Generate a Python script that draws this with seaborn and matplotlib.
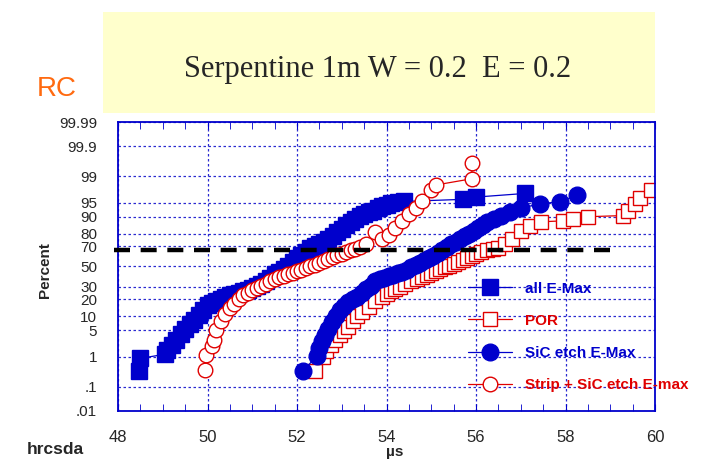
import numpy as np
import matplotlib
matplotlib.use("Agg")
import matplotlib.pyplot as plt
import seaborn as sns
import pandas as pd
from statistics import NormalDist
from matplotlib.patches import Rectangle
from matplotlib.ticker import FixedLocator, FixedFormatter, MultipleLocator, NullLocator

# ── data (x in µs, y in cumulative percent) ─────────────────────
emax_x = [48.48, 48.5, 49.05, 49.1, 49.2, 49.3, 49.4, 49.5, 49.6, 49.7, 49.8, 49.9,
          50.0, 50.1, 50.2, 50.3, 50.4, 50.5, 50.6, 50.7, 50.8, 50.9, 51.0, 51.1, 51.2,
          51.3, 51.4, 51.5, 51.6, 51.7, 51.8, 51.9, 52.0, 52.1, 52.2, 52.3, 52.4, 52.5,
          52.6, 52.7, 52.8, 52.9, 53.0, 53.1, 53.2, 53.3, 53.4, 53.5, 53.6, 53.7, 53.8,
          53.9, 54.0, 54.1, 54.25, 54.4, 55.7, 56.0, 57.1]
emax_y = [0.35, 0.9, 1.2, 1.6, 2.2, 3.0, 4.2, 5.5, 7.0, 8.5, 10.5, 13,
          16, 17.5, 19, 20.5, 21.5, 23, 24, 25, 26, 27.5, 29, 31, 33,
          35, 38, 42, 44.5, 47, 51, 55, 58.5, 62, 65, 68, 70, 72,
          74, 76, 78.5, 81, 83.5, 85.5, 87.5, 89, 90.2, 91, 91.8, 92.5, 93.3,
          94, 94.4, 94.8, 95.1, 95.3, 95.8, 96.3, 97]

por_x = [52.4, 52.58, 52.65, 52.75, 52.85, 52.95, 53.05, 53.15, 53.25, 53.35, 53.45, 53.6,
         53.75, 53.9, 54.0, 54.1, 54.2, 54.3, 54.42, 54.55, 54.68, 54.8, 54.9, 55.0, 55.1,
         55.2, 55.3, 55.4, 55.5, 55.6, 55.7, 55.8, 55.9, 56.0, 56.12, 56.25, 56.38,
         56.5, 56.65, 56.8, 57.0, 57.2, 57.45, 57.95, 58.17, 58.5, 59.28, 59.4, 59.55,
         59.66, 59.9]
por_y = [0.36, 0.96, 1.5, 2.2, 3.0, 3.8, 4.8, 6.0, 8.0, 10, 12, 15,
         18.5, 22, 24, 26, 28, 30, 32.5, 35, 37, 39, 41, 43, 45,
         47, 49, 51, 53, 55, 57, 59, 61, 63, 64.5, 66, 67,
         68, 72, 76, 82, 85, 87.5, 88, 89, 90, 90.5, 92.5, 94.5,
         96, 97.5]

sic_x = [52.13, 52.45, 52.5, 52.55, 52.62, 52.7, 52.78, 52.87, 52.96, 53.05, 53.15, 53.25,
         53.35, 53.45, 53.55, 53.65, 53.75, 53.85, 53.95, 54.05, 54.15, 54.25, 54.35, 54.45,
         54.55, 54.65, 54.75, 54.85, 54.95, 55.05, 55.15, 55.25, 55.35, 55.45, 55.55, 55.65,
         55.75, 55.85, 55.95, 56.05, 56.15, 56.25, 56.4, 56.55, 56.75, 57.0, 57.43, 57.88,
         58.26]
sic_y = [0.36, 1.07, 1.8, 2.8, 4.0, 5.5, 7.5, 10, 13, 15.5, 18, 20,
         22, 25, 28, 31, 35, 37, 38.5, 40, 41.5, 43, 44.5, 46.5,
         49, 51.5, 54, 56.5, 59, 61, 63.5, 66, 69, 71.5, 74, 76,
         78, 80, 82, 84, 85.5, 87.5, 89, 90.5, 92, 93.3, 94.7, 95.2,
         96.7]

strip_x = [49.95, 49.97, 50.1, 50.15, 50.2, 50.3, 50.4, 50.5, 50.6, 50.7, 50.8, 50.9, 51.0,
           51.1, 51.2, 51.3, 51.4, 51.5, 51.6, 51.7, 51.8, 51.9, 52.0, 52.1, 52.2, 52.3,
           52.4, 52.5, 52.6, 52.7, 52.8, 52.9, 53.0, 53.1, 53.2, 53.3, 53.4, 53.55, 53.75,
           53.9, 54.05, 54.2, 54.35, 54.5, 54.65, 54.8, 55.0, 55.1, 55.9, 55.92]
strip_y = [0.4, 1.15, 2.0, 3.0, 5.0, 8.0, 11, 14, 17, 20, 23, 25, 27,
           29, 31, 33, 35, 37, 39, 40.5, 42, 43.5, 45, 46.5, 48, 50,
           52, 54, 56, 58, 60, 61.5, 63, 64.5, 66, 67.5, 69, 72, 81,
           76, 79, 84, 88, 91, 93.5, 95.5, 97.5, 98.2, 98.8, 99.6]

series_names = ["all E-Max", "POR", "SiC etch E-Max", "Strip + SiC etch E-max"]

yticks = [0.01, 0.1, 1, 5, 10, 20, 30, 50, 70, 80, 90, 95, 99, 99.9, 99.99]
ytick_labels = [".01", ".1", "1", "5", "10", "20", "30", "50", "70", "80", "90", "95", "99", "99.9", "99.99"]
xticks = [48, 50, 52, 54, 56, 58, 60]

ref_pct = 66
ref_x = [47.9, 59.1]

BLUE = "#0000cc"
RED = "#e00000"

# ── probability (probit) scale ─────────────────────────────────
_nd = NormalDist()
_ppf = np.vectorize(lambda p: _nd.inv_cdf(p), otypes=[float])
_cdf = np.vectorize(lambda z: _nd.cdf(z), otypes=[float])

def fwd(p):
    p = np.clip(np.asarray(p, dtype=float) / 100.0, 1e-7, 1 - 1e-7)
    return _ppf(p)

def inv(z):
    return _cdf(np.asarray(z, dtype=float)) * 100.0

sns.set_style("white")
plt.rcParams["font.family"] = ["Liberation Sans", "DejaVu Sans"]

fig = plt.figure(figsize=(7.16, 4.62), dpi=100)
ax = fig.add_axes([118/716, 1-411/462, 537/716, 289/462])
ax.set_yscale("function", functions=(fwd, inv))

styles = [
    dict(x=emax_x, y=emax_y, color=BLUE, marker="s", ms=11.5, mfc=BLUE, mec=BLUE),
    dict(x=por_x, y=por_y, color=RED, marker="s", ms=9.5, mfc="white", mec=RED),
    dict(x=sic_x, y=sic_y, color=BLUE, marker="o", ms=12, mfc=BLUE, mec=BLUE),
    dict(x=strip_x, y=strip_y, color=RED, marker="o", ms=10.5, mfc="white", mec=RED),
]
for name, s in zip(series_names, styles):
    df = pd.DataFrame({"x": s["x"], "y": s["y"]})
    sns.lineplot(data=df, x="x", y="y", ax=ax, estimator=None, sort=False,
                 color=s["color"], lw=0.9, marker=s["marker"], markersize=s["ms"],
                 markerfacecolor=s["mfc"], markeredgecolor=s["mec"], markeredgewidth=1.0,
                 label=name)

# reference line (extends past the left spine)
ax.plot(ref_x, [ref_pct, ref_pct], color="black", lw=3.2, ls=(0, (3.6, 2.4)),
        clip_on=False, label="_nolegend_", zorder=5)

ax.set_xlim(48, 60)
ax.set_ylim(0.01, 99.99)
ax.xaxis.set_major_locator(FixedLocator(xticks))
ax.xaxis.set_minor_locator(MultipleLocator(0.5))
ax.yaxis.set_major_locator(FixedLocator(yticks))
ax.yaxis.set_major_formatter(FixedFormatter(ytick_labels))
ax.yaxis.set_minor_locator(NullLocator())
ax.tick_params(axis="x", which="both", direction="in", top=True, bottom=True,
               color=BLUE, labelsize=12, pad=14, length=5)
ax.tick_params(axis="y", length=0, labelsize=11, pad=15)
ax.set_xlabel(""); ax.set_ylabel("")

ax.grid(True, which="major", color="#2a2ad0", ls=(0, (2, 2)), lw=0.9)
ax.set_axisbelow(True)
for sp in ax.spines.values():
    sp.set_color(BLUE); sp.set_linewidth(1.3); sp.set_visible(True)

leg = ax.legend(loc="upper left", bbox_to_anchor=(0.652, 0.447), frameon=False,
                prop={"weight": "bold", "size": 11}, labelcolor="linecolor",
                handlelength=2.9, handletextpad=0.85, labelspacing=1.18,
                borderpad=0, borderaxespad=0)
leg.set_zorder(6)

# ── figure decorations ────────────────────────────────────────
fig.patches.append(Rectangle((103/716, 1-113/462), 552/716, 101/462,
                             transform=fig.transFigure, facecolor="#ffffcc",
                             edgecolor="none", zorder=0))
fig.text(378/716, 1-70/462, "Serpentine 1m W = 0.2  E = 0.2", ha="center", va="center",
         fontsize=22, family="Liberation Serif")
fig.text(57/716, 1-89/462, "RC", ha="center", va="center", fontsize=20, color="#ff6a10")
fig.text(45/716, 1-270/462, "Percent", rotation=90, ha="center", va="center",
         fontsize=11, weight="bold")
fig.text(395/716, 1-452/462, "µs", ha="center", va="center", fontsize=11, weight="bold")
fig.text(55/716, 1-450/462, "hrcsda", ha="center", va="center", fontsize=12.5, weight="bold")

fig.savefig("out.png", dpi=100)
